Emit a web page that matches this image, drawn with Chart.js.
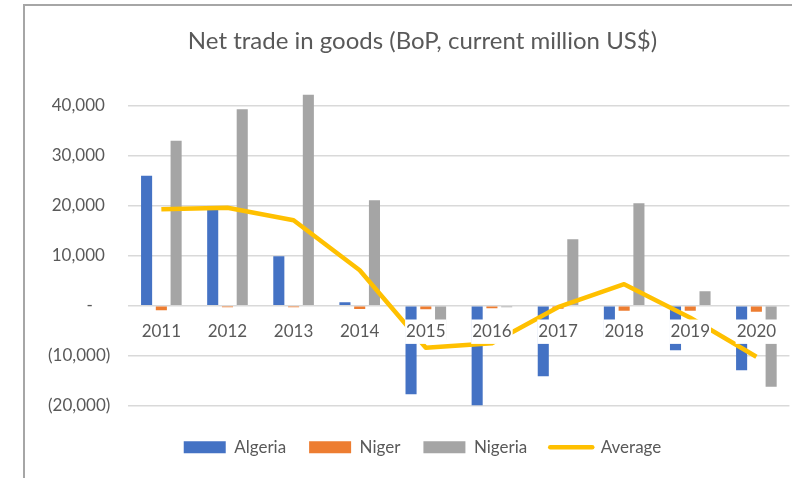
<!DOCTYPE html>
<html>
<head>
<meta charset="utf-8">
<script src="https://cdn.jsdelivr.net/npm/chart.js@4.4.0/dist/chart.umd.min.js"></script>
<style>
  body { margin: 0; background: #fff; }
  #wrap { position: relative; width: 792px; height: 478px; }
  #frame { position: absolute; left: 23px; top: 4px; right: 0; bottom: 0;
           border-left: 2px solid #a6a6a6; border-top: 2px solid #a6a6a6; }
  #c { position: absolute; left: 0; top: 0; }
</style>
</head>
<body>
<div id="wrap">
  <div id="frame"></div>
  <canvas id="c" width="792" height="478"></canvas>
</div>
<script>
// chart data (million US$)
var years = ['2011','2012','2013','2014','2015','2016','2017','2018','2019','2020'];
var algeria = [26000, 19900, 9900, 700, -17700, -19900, -14100, -6600, -8900, -12900];
var niger   = [-900, -300, -300, -650, -700, -500, -600, -1000, -1000, -1200];
var nigeria = [33000, 39300, 42200, 21100, -6800, -300, 13300, 20500, 2900, -16200];
var average = [19300, 19600, 17100, 7100, -8400, -7500, -300, 4300, -2400, -10200];
var yTicks  = [-20000, -10000, 0, 10000, 20000, 30000, 40000];

var textGrey = '#595959';
Chart.defaults.font.family = 'Lato';
Chart.defaults.color = textGrey;

// excel "accounting" style number labels
function fmt(v){
    if (v === 0) return '-    ';
    var s = Math.abs(v).toLocaleString('en-US');
    return v < 0 ? '(' + s + ')' : s + ' \u200A';
}

function barSet(label, data, color){
    return { type: 'bar', label: label, data: data, backgroundColor: color,
             borderWidth: 0, order: 1, pointStyle: 'rect',
             barPercentage: 0.75, categoryPercentage: 0.67 };
}

var ctx = document.getElementById('c').getContext('2d');
var myChart = new Chart(ctx, {
    data: {
        labels: years,
        datasets: [
            barSet('Algeria', algeria, '#4472C4'),
            barSet('Niger', niger, '#ED7D31'),
            barSet('Nigeria', nigeria, '#A5A5A5'),
            { type: 'line', label: 'Average', data: average, borderColor: '#FFC000',
              backgroundColor: '#FFC000', borderWidth: 4.5, pointRadius: 0,
              borderJoinStyle: 'round', tension: 0, fill: false, order: 0, pointStyle: 'line' }
        ]
    },
    options: {
        responsive: false,
        animation: false,
        layout: { padding: { left: 55, right: 2, top: 0, bottom: 12.3 } },
        scales: {
            x: {
                position: { y: 0 },
                grid: { display: false, drawTicks: false },
                border: { display: false },
                ticks: { font: { size: 17 }, color: textGrey, padding: 15.8, z: 1,
                         maxRotation: 0, autoSkip: false,
                         showLabelBackdrop: true, backdropColor: '#ffffff',
                         backdropPadding: { x: 1, y: 2 } }
            },
            y: {
                min: -22000,
                max: 45000,
                afterBuildTicks: function(scale){
                    scale.ticks = yTicks.map(function(v){ return { value: v }; });
                },
                afterFit: function(scale){
                    scale.width = 73.3;
                    scale._computeLabelArea = function(){};   // labels may run past the axis box
                },
                grid: { color: '#d9d9d9', lineWidth: 1.5, drawTicks: false },
                border: { display: false },
                ticks: { font: { size: 17 }, color: textGrey, padding: 18,
                         callback: function(v){ return fmt(v); } }
            }
        },
        plugins: {
            title: {
                display: true,
                text: 'Net trade in goods (BoP, current million US$)',
                color: textGrey,
                font: { size: 24, weight: 'normal' },
                padding: { top: 26.6, bottom: 25.3 }
            },
            legend: {
                position: 'bottom',
                labels: {
                    usePointStyle: true,
                    pointStyleWidth: 42,
                    boxHeight: 12,
                    padding: 23,
                    color: textGrey,
                    font: { size: 17 },
                    sort: function(a, b){ return a.datasetIndex - b.datasetIndex; },
                    generateLabels: function(chart){
                        var items = Chart.defaults.plugins.legend.labels.generateLabels(chart);
                        items.forEach(function(it){
                            var ds = chart.data.datasets[it.datasetIndex];
                            it.pointStyle = ds.pointStyle;
                            if (ds.type === 'line') { it.lineCap = 'round'; it.lineWidth = 4.5; }
                        });
                        return items;
                    }
                }
            },
            tooltip: { enabled: false }
        }
    }
});
</script>
</body>
</html>
